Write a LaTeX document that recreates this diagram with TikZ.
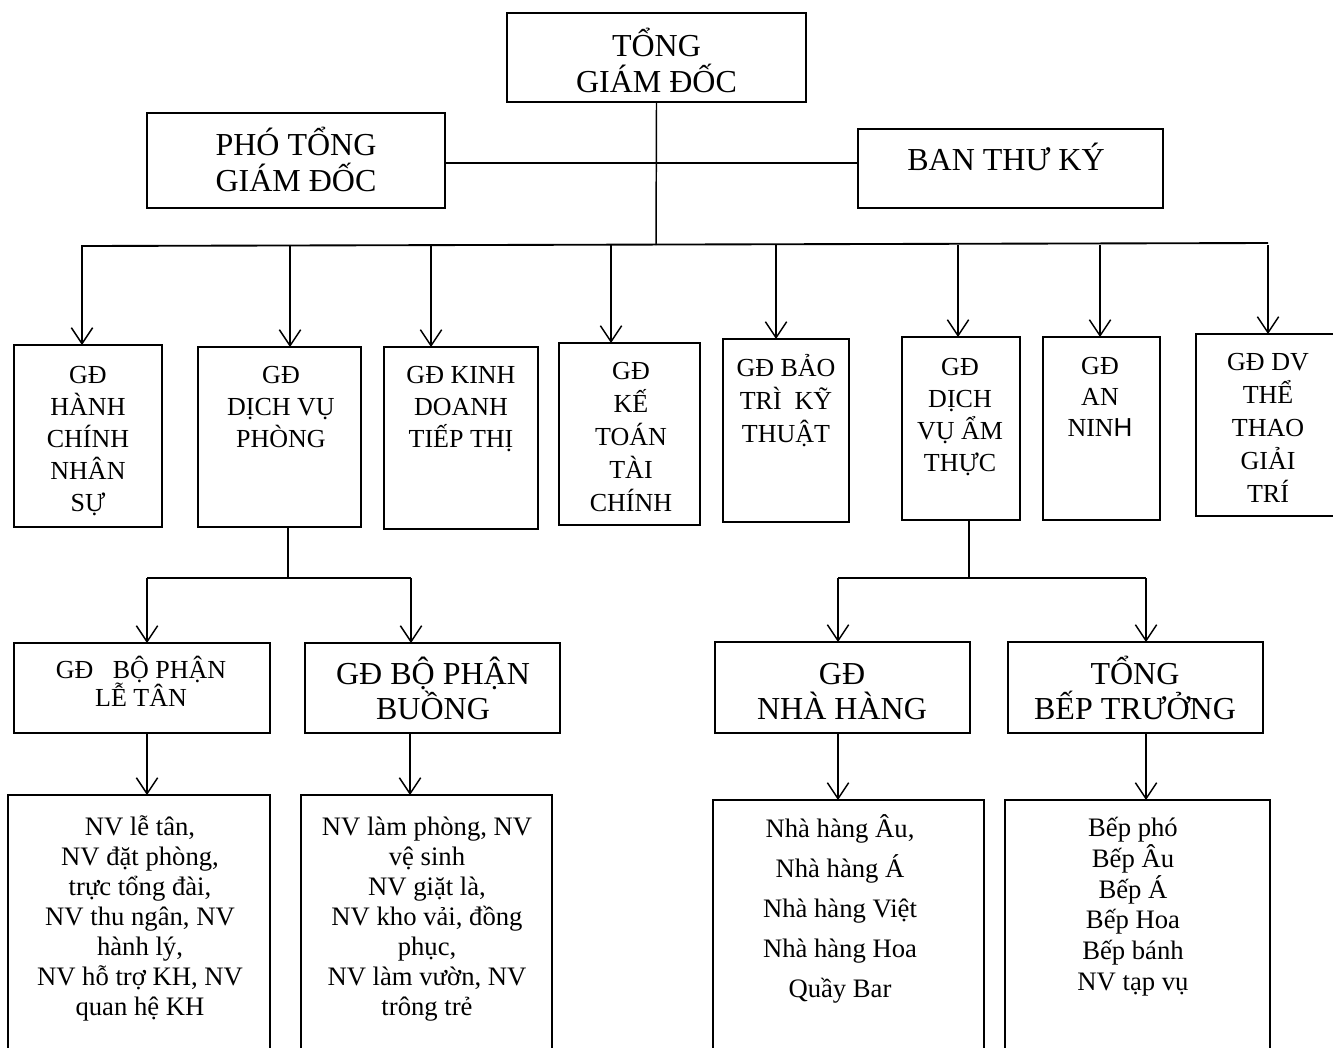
\documentclass[tikz,border=0pt]{standalone}
\usepackage{fontspec}
\setmainfont{Liberation Serif}
\newfontfamily\mysans{Liberation Sans}
\usetikzlibrary{arrows.meta}
\newcommand{\myfa}{\fontsize{24pt}{27pt}\selectfont}
\newcommand{\myfb}{\fontsize{19.5pt}{24pt}\selectfont}
\newcommand{\myfc}{\fontsize{24pt}{26pt}\selectfont}
\newcommand{\myfd}{\fontsize{19.5pt}{21pt}\selectfont}
\newcommand{\myfe}{\fontsize{20pt}{22.5pt}\selectfont}
\tikzset{
  box/.style={draw, line width=1.4pt, rectangle, inner sep=0pt, outer sep=0pt},
  sz/.style n args={2}{minimum width=#1*0.75pt, minimum height=#2*0.75pt},
  txt/.style={align=center, inner sep=0pt, anchor=base},
  conn/.style={line width=1.1pt},
  arr/.style={line width=1.1pt, -{Straight Barb[length=12pt,width=16pt,line width=1.1pt]}}
}
\begin{document}
\begin{tikzpicture}[x=0.75pt,y=-0.75pt]
\clip (0,0) rectangle (1333,1047);
\fill[white] (0,0) rectangle (1333,1047);

% level 1
\node[box, sz={299}{89}] (ceo) at (656.5,57.5) {};
\node[txt, font=\myfa] (tceo) at (656.5,92) {TỔNG\\GIÁM ĐỐC};
\node[box, sz={298}{95}] (pho) at (296,160.5) {};
\node[txt, font=\myfa] (tpho) at (296,191) {PHÓ TỔNG\\GIÁM ĐỐC};
\node[box, sz={305}{79}] (ban) at (1010.5,168.5) {};
\node[txt, font=\myfa] (tban) at (1006,170) {BAN THƯ KÝ};

\coordinate (hmid) at (656,163);
\draw[conn] (pho.east |- hmid) -- (ban.west |- hmid);
\coordinate (bus) at (656,245);
\draw[conn] (ceo.south) -- (bus);
\coordinate (busL) at (82,246);
\coordinate (busR) at (1268,243);
\draw[line width=1.4pt] (busL) -- (busR);

% level 2
\node[box, sz={148}{182}] (b1) at (88,436) {};
\node[box, sz={163}{180}] (b2) at (279.5,437) {};
\node[box, sz={154}{182}] (b3) at (461,438) {};
\node[box, sz={141}{182}] (b4) at (629.5,434) {};
\node[box, sz={126}{183}] (b5) at (786,430.5) {};
\node[box, sz={118}{183}] (b6) at (961,428.5) {};
\node[box, sz={117}{183}] (b7) at (1101.5,428.5) {};
\node[box, sz={149}{182}] (b8) at (1270.5,425) {};

\node[txt, font=\myfb] (t1) at (88,511) {GĐ\\HÀNH\\CHÍNH\\NHÂN\\SỰ};
\node[txt, font=\myfb] (t2) at (281,447) {GĐ\\DỊCH VỤ\\PHÒNG};
\node[txt, font=\myfb] (t3) at (461,447) {GĐ KINH\\DOANH\\TIẾP THỊ};
\node[txt, font=\fontsize{19.5pt}{24.75pt}\selectfont] (t4) at (631,511) {GĐ\\KẾ\\TOÁN\\TÀI\\CHÍNH};
\node[txt, font=\fontsize{19.5pt}{24.75pt}\selectfont] (t5) at (786,442) {GĐ BẢO\\TRÌ\ \ KỸ\\THUẬT};
\node[txt, font=\myfb] (t6) at (960,471) {GĐ\\DỊCH\\VỤ ẨM\\THỰC};
\node[txt, font=\fontsize{19.5pt}{23pt}\selectfont] (t7) at (1100,436) {GĐ\\AN\\NIN{\mysans H}};
\node[txt, font=\fontsize{19.5pt}{24.75pt}\selectfont] (t8) at (1268,502) {GĐ DV\\THỂ\\THAO\\GIẢI\\TRÍ};

\foreach \x/\b in {82/b1,290/b2,431/b3,611/b4,776/b5,958/b6,1100/b7,1268/b8}{
  \coordinate (a\b) at (\x,245);
  \draw[arr] (a\b) -- (a\b |- \b.north);
}

% level 3
\node[box, sz={256}{90}] (c1) at (142,688) {};
\node[box, sz={255}{90}] (c2) at (432.5,688) {};
\node[box, sz={255}{91}] (c3) at (842.5,687.5) {};
\node[box, sz={255}{91}] (c4) at (1135.5,687.5) {};
\node[txt, font=\myfd] (tc1) at (141,706) {GĐ\ \ \ BỘ PHẬN\\LỄ TÂN};
\node[txt, font=\myfc] (tc2) at (433,719) {GĐ BỘ PHẬN\\BUỒNG};
\node[txt, font=\myfc] (tc3) at (842,719) {GĐ\\NHÀ HÀNG};
\node[txt, font=\myfc] (tc4) at (1135,719) {TỔNG\\BẾP TRƯỞNG};

\coordinate (s1) at (288,578);
\draw[conn] (s1 |- b2.south) -- (s1);
\coordinate (s1L) at (147,578);
\coordinate (s1R) at (411,578);
\draw[line width=1.4pt] (s1L) -- (s1R);
\draw[arr] (s1L) -- (s1L |- c1.north);
\draw[arr] (s1R) -- (s1R |- c2.north);

\coordinate (s2) at (969,578);
\draw[conn] (s2 |- b6.south) -- (s2);
\coordinate (s2L) at (838,578);
\coordinate (s2R) at (1146,578);
\draw[line width=1.4pt] (s2L) -- (s2R);
\draw[arr] (s2L) -- (s2L |- c3.north);
\draw[arr] (s2R) -- (s2R |- c4.north);

% level 4
\node[box, sz={262}{265}] (d1) at (139,927.5) {};
\node[box, sz={251}{265}] (d2) at (426.5,927.5) {};
\node[box, sz={271}{260}] (d3) at (848.5,930) {};
\node[box, sz={265}{260}] (d4) at (1137.5,930) {};

\coordinate (e1) at (147,0);
\coordinate (e2) at (410,0);
\coordinate (e3) at (838,0);
\coordinate (e4) at (1146,0);
\draw[arr] (e1 |- c1.south) -- (e1 |- d1.north);
\draw[arr] (e2 |- c2.south) -- (e2 |- d2.north);
\draw[arr] (e3 |- c3.south) -- (e3 |- d3.north);
\draw[arr] (e4 |- c4.south) -- (e4 |- d4.north);

\node[txt, font=\myfe] (td1) at (140,1015) {NV lễ tân,\\NV đặt phòng,\\trực tổng đài,\\NV thu ngân, NV\\hành lý,\\NV hỗ trợ KH, NV\\quan hệ KH};
\node[txt, font=\myfe] (td2) at (427,1015) {NV làm phòng, NV\\vệ sinh\\NV giặt là,\\NV kho vải, đồng\\phục,\\NV làm vườn, NV\\trông trẻ};
\node[txt, font=\fontsize{20pt}{30pt}\selectfont] (td3) at (840,997) {Nhà hàng Âu,\\Nhà hàng Á\\Nhà hàng Việt\\Nhà hàng Hoa\\Quầy Bar};
\node[txt, font=\fontsize{20pt}{23pt}\selectfont] (td4) at (1133,990) {Bếp phó\\Bếp Âu\\Bếp Á\\Bếp Hoa\\Bếp bánh\\NV tạp vụ};
\end{tikzpicture}
\end{document}
